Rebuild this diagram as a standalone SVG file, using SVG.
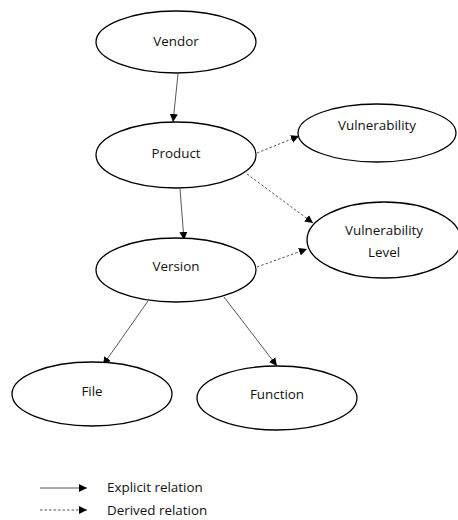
<svg xmlns="http://www.w3.org/2000/svg" width="458" height="520" viewBox="0 0 458 520">
<defs>
<marker id="ah" viewBox="0 0 10 10" refX="10" refY="5" markerWidth="8" markerHeight="8" markerUnits="userSpaceOnUse" orient="auto">
<path d="M0,0 L10,5 L0,10 z" fill="#000"/>
</marker>
</defs>
<style>
.node ellipse{fill:#fff;stroke:#000;stroke-width:1.3}
text{font-family:"Open Sans","Liberation Sans",sans-serif;font-size:13.4px;fill:#111;text-anchor:middle}
.solid{stroke:#444;stroke-width:0.9;fill:none;marker-end:url(#ah)}
.dash{stroke:#444;stroke-width:0.9;fill:none;stroke-dasharray:2.5,2;marker-end:url(#ah)}
.leg{text-anchor:start}
</style>
<rect width="458" height="520" fill="#fff"/>
<g id="connectors">
<line class="solid" x1="178" y1="74" x2="173" y2="122"/>
<line class="solid" x1="180" y1="189" x2="184" y2="240"/>
<line class="dash" x1="257" y1="153" x2="299" y2="136"/>
<line class="dash" x1="247" y1="174" x2="313" y2="223"/>
<line class="dash" x1="257" y1="267" x2="307" y2="249"/>
<line class="solid" x1="148" y1="301" x2="103" y2="365"/>
<line class="solid" x1="224" y1="297" x2="277" y2="366"/>
</g>
<g id="vendor" class="node"><ellipse cx="176" cy="42" rx="80" ry="31"/><text x="176" y="46">Vendor</text></g>
<g id="product" class="node"><ellipse cx="176" cy="155" rx="80" ry="33"/><text x="176" y="158">Product</text></g>
<g id="vulnerability" class="node"><ellipse cx="377" cy="133" rx="79" ry="29"/><text x="377" y="130">Vulnerability</text></g>
<g id="vulnerability-level" class="node"><ellipse cx="384" cy="240" rx="77" ry="38"/><text x="384" y="235">Vulnerability</text><text x="384" y="257">Level</text></g>
<g id="version" class="node"><ellipse cx="176" cy="270" rx="80" ry="32"/><text x="176" y="271">Version</text></g>
<g id="file" class="node"><ellipse cx="92" cy="394" rx="80" ry="32"/><text x="92" y="396">File</text></g>
<g id="function" class="node"><ellipse cx="277" cy="398" rx="80" ry="32"/><text x="277" y="399">Function</text></g>
<g id="legend">
<line class="solid" x1="40" y1="488" x2="87" y2="488"/>
<text class="leg" x="107" y="492">Explicit relation</text>
<line class="dash" x1="40" y1="510" x2="87" y2="510"/>
<text class="leg" x="107" y="515">Derived relation</text>
</g>
</svg>
